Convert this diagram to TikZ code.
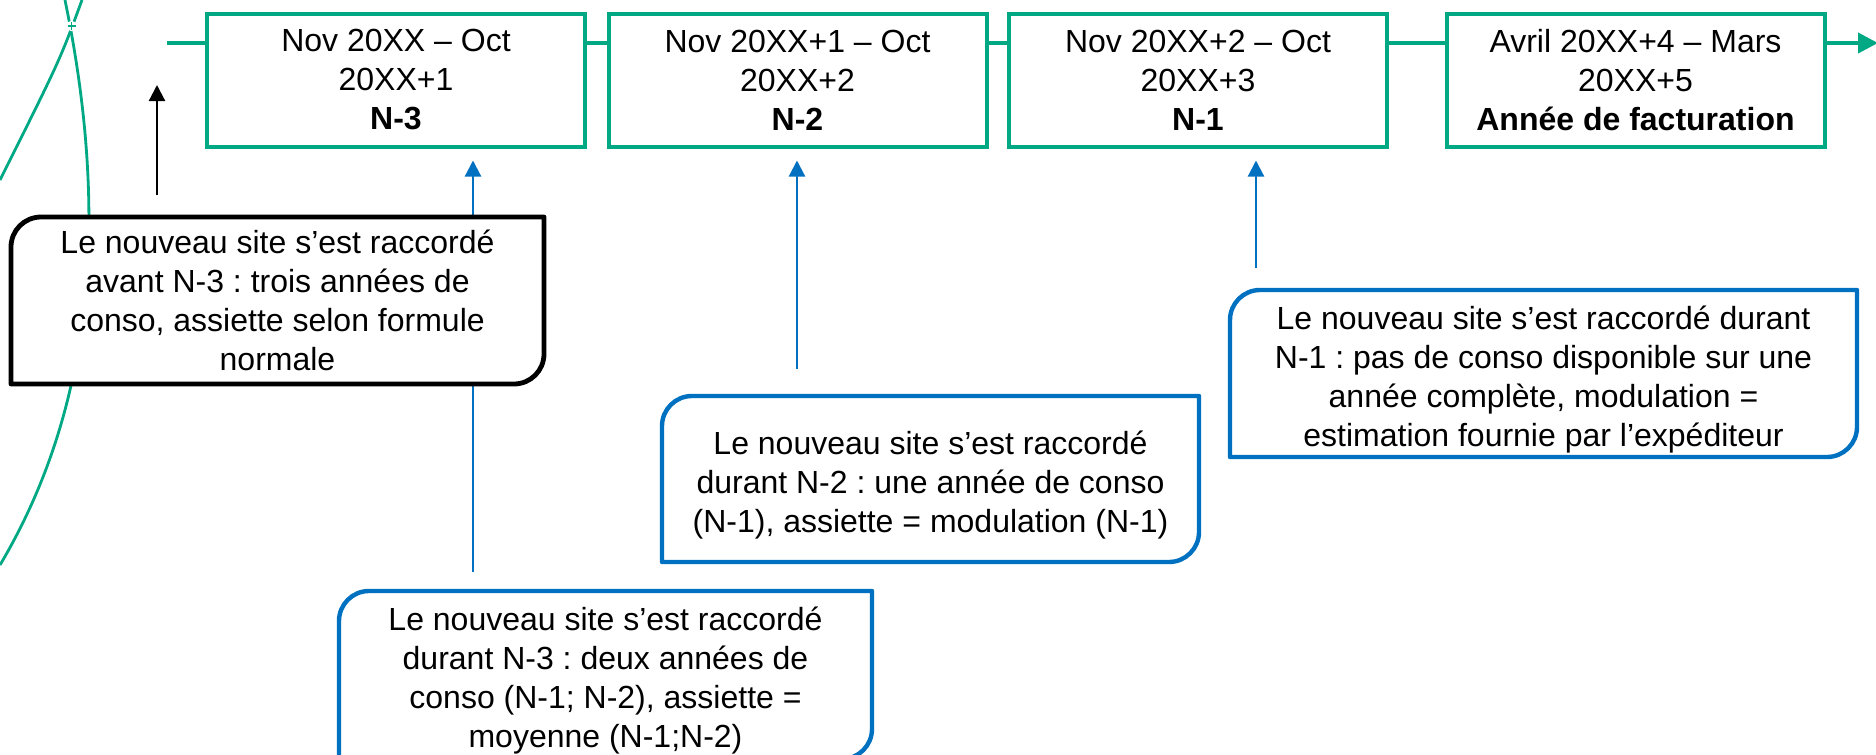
\documentclass[tikz,border=0pt]{standalone}
\usepackage{fontspec}
\setmainfont{Liberation Sans}
\usetikzlibrary{arrows.meta,calc}
\definecolor{grn}{HTML}{00A984}
\definecolor{blu}{HTML}{0070C0}
\pgfdeclarelayer{back}
\pgfdeclarelayer{mid}
\pgfsetlayers{back,mid,main}
\frenchspacing
\newcommand\calloutshape[3]{%
  \begin{pgfonlayer}{mid}
  \draw[#2, line width=#3, fill=white, line join=round]
    ([yshift=-15pt]#1.north west) arc[start angle=180,end angle=90,radius=15pt]
    -- (#1.north east) -- ([yshift=15pt]#1.south east)
    arc[start angle=0,end angle=-90,radius=15pt] -- (#1.south west) -- cycle;
  \end{pgfonlayer}}
\begin{document}
\begin{tikzpicture}[x=0.5pt,y=-0.5pt,
  txt/.style={font=\fontsize{16}{19.5}\selectfont},
  period/.style={draw=grn, line width=2pt, fill=white, minimum width=189pt,
    minimum height=66.5pt, inner sep=0pt, outer sep=0pt, align=center, txt},
  frame/.style={inner sep=0pt, outer sep=0pt},
  note/.style={inner sep=0pt, outer sep=0pt, align=center, txt},
  gline/.style={grn, line width=2pt},
  gcurve/.style={grn, line width=1.4pt},
  barrow/.style={blu, line width=1.1pt, -{Triangle[length=8pt,width=8pt]}},
  karrow/.style={black, line width=1.1pt, -{Triangle[length=8pt,width=8pt]}}
]
\useasboundingbox (0,0) rectangle (1876,755);
\clip (0,0) rectangle (1876,755);

% timeline boxes
\node[period] (b1) at (396,80) {Nov 20XX – Oct\\20XX+1\\\textbf{N-3}};
\node[period] (b2) at (797.5,80) {Nov 20XX+1 – Oct\\20XX+2\\\textbf{N-2}};
\node[period] (b3) at (1198,80) {Nov 20XX+2 – Oct\\20XX+3\\\textbf{N-1}};
\node[period] (b4) at (1635.5,80) {Avril 20XX+4 – Mars\\20XX+5\\\textbf{Année de facturation}};

% callout frames
\node[frame, minimum width=266.5pt, minimum height=83.5pt] (cbk) at (277.5,300.5) {};
\node[frame, minimum width=268.5pt, minimum height=83pt] (c2) at (930.5,479) {};
\node[frame, minimum width=313.5pt, minimum height=83.5pt] (c1) at (1543.5,373.5) {};
\node[frame, minimum width=266.5pt, minimum height=84pt] (c3) at (605.5,675) {};

\calloutshape{cbk}{black}{2.4pt}
\calloutshape{c2}{blu}{2.2pt}
\calloutshape{c1}{blu}{2.2pt}
\calloutshape{c3}{blu}{2.2pt}

% callout texts
\node[note] (tbk) at (cbk.center)
  {Le nouveau site s’est raccordé\\avant N-3 : trois années de\\conso, assiette selon formule\\normale};
\node[note] (t2) at ([yshift=-3pt]c2.center)
  {Le nouveau site s’est raccordé\\durant N-2 : une année de conso\\(N-1), assiette = modulation (N-1)};
\node[note] (t1) at ([yshift=-3pt]c1.center)
  {Le nouveau site s’est raccordé durant\\N-1 : pas de conso disponible sur une\\année complète, modulation =\\estimation fournie par l’expéditeur};
\node[note] (t3) at ([yshift=-3pt]c3.center)
  {Le nouveau site s’est raccordé\\durant N-3 : deux années de\\conso (N-1; N-2), assiette =\\moyenne (N-1;N-2)};

\begin{pgfonlayer}{back}
  % timeline line
  \coordinate (gstart) at (167,43);
  \coordinate (gend) at (1878,43);
  \draw[gline] (gstart) -- (gstart -| b1.west);
  \draw[gline] (gstart -| b1.east) -- (gstart -| b2.west);
  \draw[gline] (gstart -| b2.east) -- (gstart -| b3.west);
  \draw[gline] (gstart -| b3.east) -- (gstart -| b4.west);
  \draw[gline, -{Triangle[length=10pt,width=10pt]}] (gstart -| b4.east) -- (gend);

  % decorative curves on the left
  \draw[gcurve] (65,0) .. controls (100,170) and (110,380) .. (0,565);
  \draw[gcurve] (82,0) .. controls (60,60) .. (0,180);
  \fill[white] (71.5,26) circle (2.6pt);
  \draw[grn, line width=0.7pt] (67.5,26) -- (75.5,26) (71.5,22) -- (71.5,30);

  % arrows
  \coordinate (xa1) at (473,0);
  \coordinate (xa2) at (797,0);
  \coordinate (xa3) at (1256,0);
  \coordinate (ktip) at (157,85);
  \draw[barrow, shorten <=9.5pt, shorten >=7pt] (xa1 |- c3.north) -- (xa1 |- b1.south);
  \draw[barrow, shorten <=13.5pt, shorten >=7pt] (xa2 |- c2.north) -- (xa2 |- b2.south);
  \draw[barrow, shorten <=11pt, shorten >=7pt] (xa3 |- c1.north) -- (xa3 |- b3.south);
  \draw[karrow, shorten <=11pt] (ktip |- cbk.north) -- (ktip);
\end{pgfonlayer}
\end{tikzpicture}
\end{document}
